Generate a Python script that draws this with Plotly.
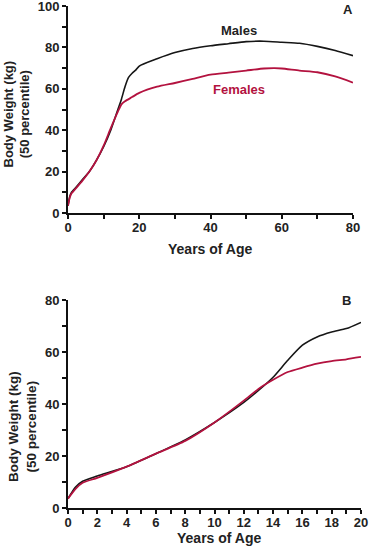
import plotly.graph_objects as go

# Panel A: lifespan 0-80 years
age_a = [0, 0.5, 1, 2, 4, 6, 8, 10, 12, 14, 15, 16, 17, 18, 19, 20, 25, 30, 35, 40, 45, 50, 55, 60, 65, 70, 75, 80]
males_a = [3.5, 8, 10, 12, 16, 20, 25.5, 32, 40, 50, 55, 61, 65.5, 67.5, 69, 71, 74.5, 77.5, 79.5, 80.8, 81.8, 82.8, 83, 82.5, 82, 80.5, 78.5, 76]
age_af = [0, 0.5, 1, 2, 4, 6, 8, 10, 12, 14, 15, 16, 18, 20, 25, 30, 35, 40, 45, 50, 55, 58, 60, 65, 70, 75, 80]
females_a = [3.5, 7.5, 9.5, 11.5, 15.5, 20, 25.5, 32.5, 41, 49, 52.5, 54, 56, 58, 61, 62.8, 64.8, 66.8, 67.8, 68.8, 69.8, 70, 69.8, 68.8, 68, 66, 63]

# Panel B: 0-20 years
age_b = [0, 0.5, 1, 2, 4, 6, 8, 10, 12, 13, 14, 15, 16, 17, 18, 19, 20]
males_b = [3.6, 8, 10.3, 12.3, 15.9, 20.9, 26.2, 32.9, 40.6, 45.2, 50.3, 56.8, 62.6, 65.8, 67.7, 69, 71.4]
females_b = [3.6, 7.3, 9.7, 11.6, 15.9, 20.9, 25.8, 32.9, 41.3, 45.8, 49.3, 52.3, 54, 55.5, 56.5, 57.2, 58.1]

x_title = "Years of Age"
y_title = "Body Weight (kg)<br>(50 percentile)"

BLACK = "#161616"
RED = "#b3123f"
FONT = "Liberation Sans"
TXT = "#222222"

fig = go.Figure()
fig.add_trace(go.Scatter(x=age_a, y=males_a, mode="lines", line=dict(color=BLACK, width=1.6, shape="spline", smoothing=0.6), xaxis="x", yaxis="y", showlegend=False))
fig.add_trace(go.Scatter(x=age_af, y=females_a, mode="lines", line=dict(color=RED, width=1.8, shape="spline", smoothing=0.6), xaxis="x", yaxis="y", showlegend=False))
fig.add_trace(go.Scatter(x=age_b, y=males_b, mode="lines", line=dict(color=BLACK, width=1.6, shape="spline", smoothing=0.6), xaxis="x2", yaxis="y2", showlegend=False))
fig.add_trace(go.Scatter(x=age_b, y=females_b, mode="lines", line=dict(color=RED, width=1.8, shape="spline", smoothing=0.6), xaxis="x2", yaxis="y2", showlegend=False))

tickfont = dict(family=FONT, size=13, color=TXT, weight="bold")

def common(dtick, mdtick, standoff):
    return dict(dtick=dtick, tick0=0, showline=True, linecolor="#111111", linewidth=2,
                showgrid=False, zeroline=False, ticks="outside", ticklen=4, tickwidth=1.5,
                tickcolor="#111111", tickfont=tickfont, ticklabeloverflow="allow",
                ticklabelstandoff=standoff,
                minor=dict(ticks="outside", ticklen=4, tickwidth=1.5, tickcolor="#111111",
                           dtick=mdtick, tick0=0, showgrid=False),
                automargin=False, fixedrange=True)

W, H = 370, 551
fig.update_layout(
    width=W, height=H,
    margin=dict(l=0, r=0, t=0, b=0),
    paper_bgcolor="white", plot_bgcolor="white",
    xaxis=dict(domain=[68 / W, 353 / W], range=[0, 80], anchor="y", **common(20, 10, -3)),
    yaxis=dict(domain=[1 - 213 / H, 1 - 6 / H], range=[0, 100], anchor="x", **common(20, 10, 0)),
    xaxis2=dict(domain=[68 / W, 361 / W], range=[0, 20], anchor="y2", **common(2, 1, -3)),
    yaxis2=dict(domain=[1 - 508 / H, 1 - 300 / H], range=[0, 80], anchor="x2", **common(20, 10, 0)),
    annotations=[
        dict(x=48, y=88, xref="x", yref="y", text="<b>Males</b>", showarrow=False, font=dict(family=FONT, size=13, color=TXT)),
        dict(x=48, y=59.5, xref="x", yref="y", text="<b>Females</b>", showarrow=False, font=dict(family=FONT, size=13, color=RED)),
        dict(x=78.5, y=98.5, xref="x", yref="y", text="<b>A</b>", showarrow=False, font=dict(family=FONT, size=13, color=TXT)),
        dict(x=19.0, y=80, xref="x2", yref="y2", text="<b>B</b>", showarrow=False, font=dict(family=FONT, size=13, color=TXT)),
        # axis titles
        dict(x=210.3 / W, y=1 - 249.3 / H, xref="paper", yref="paper", text="<b>" + x_title + "</b>", showarrow=False,
             xanchor="center", yanchor="middle", font=dict(family=FONT, size=14, color=TXT)),
        dict(x=219.7 / W, y=1 - 537.5 / H, xref="paper", yref="paper", text="<b>" + x_title + "</b>", showarrow=False,
             xanchor="center", yanchor="middle", font=dict(family=FONT, size=14, color=TXT)),
        dict(x=16.5 / W, y=1 - 114 / H, xref="paper", yref="paper", text="<b>" + y_title + "</b>", showarrow=False,
             textangle=-90, xanchor="center", yanchor="middle", font=dict(family=FONT, size=13, color=TXT)),
        dict(x=22 / W, y=1 - 427 / H, xref="paper", yref="paper", text="<b>" + y_title + "</b>", showarrow=False,
             textangle=-90, xanchor="center", yanchor="middle", font=dict(family=FONT, size=13.5, color=TXT)),
    ],
)

fig.write_html("out.html", config={"displayModeBar": False},
               post_script="document.body.style.margin='0';document.body.style.overflow='hidden';")
